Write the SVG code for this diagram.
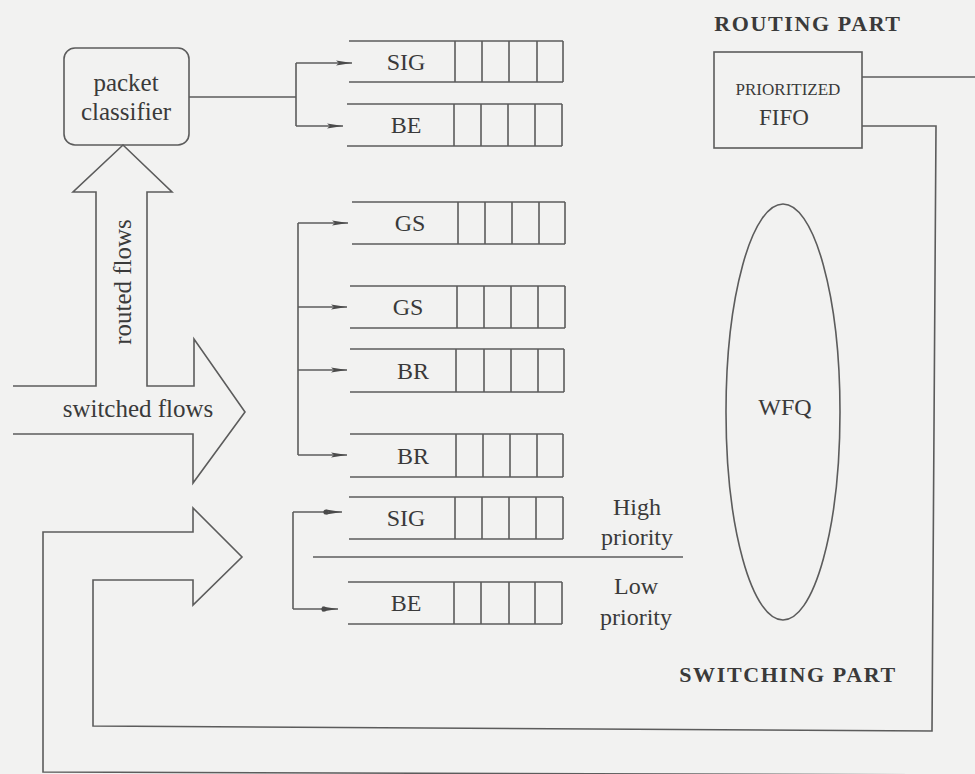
<svg xmlns="http://www.w3.org/2000/svg" width="975" height="774" viewBox="0 0 975 774">
<style>
.ln{fill:none;stroke:#5c5c5c;stroke-width:1.6;stroke-linejoin:miter}
.q{fill:none;stroke:#5c5c5c;stroke-width:1.6}
.t{font-family:"Liberation Serif","Times New Roman",serif;fill:#3a3a3a;text-anchor:middle}
.lab{font-size:24px}
.big{font-size:25px}
.hd{font-size:22px;font-weight:bold;letter-spacing:1.6px}
</style>
<defs>
<marker id="ah" markerUnits="userSpaceOnUse" markerWidth="18" markerHeight="8" refX="16" refY="4" orient="auto">
<path d="M0,1.5 L16,4 L0,6.5 L3,4 Z" fill="#4a4a4a"/>
</marker>
</defs>
<rect x="0" y="0" width="975" height="774" fill="#f2f2f1"/>

<g id="classifier">
<rect x="64" y="48" width="125" height="97" rx="11" class="ln"/>
<text class="t big" x="126" y="91">packet</text>
<text class="t big" x="126" y="120">classifier</text>
</g>

<g id="flows-arrow">
<path class="ln" d="M13,386 L96,386 L96,192 L73,192 L123,145 L172,192 L147,192 L147,386 L194,386 L194,339 L245,412 L193,483 L193,434 L13,434"/>
<text class="t big" x="123" y="282" transform="rotate(-90 123 282)" dy="8">routed flows</text>
<text class="t big" x="138" y="417">switched flows</text>
</g>

<g id="queue-sig1">
<path class="q" d="M349,41 H563 M349,82 H563 M455,41 V82 M482,41 V82 M509,41 V82 M537,41 V82 M563,41 V82"/>
<text class="t lab" x="406" y="70">SIG</text>
</g>
<g id="queue-be1">
<path class="q" d="M347,104 H562 M347,146 H562 M454,104 V146 M481,104 V146 M508,104 V146 M535,104 V146 M562,104 V146"/>
<text class="t lab" x="406" y="133">BE</text>
</g>
<g id="queue-gs1">
<path class="q" d="M352,202 H565 M352,244 H565 M458,202 V244 M485,202 V244 M512,202 V244 M539,202 V244 M565,202 V244"/>
<text class="t lab" x="410" y="231">GS</text>
</g>
<g id="queue-gs2">
<path class="q" d="M350,286 H565 M350,328 H565 M457,286 V328 M484,286 V328 M511,286 V328 M538,286 V328 M565,286 V328"/>
<text class="t lab" x="408" y="315">GS</text>
</g>
<g id="queue-br1">
<path class="q" d="M350,349 H564 M350,392 H564 M456,349 V392 M484,349 V392 M511,349 V392 M538,349 V392 M564,349 V392"/>
<text class="t lab" x="413" y="379">BR</text>
</g>
<g id="queue-br2">
<path class="q" d="M350,434 H563 M350,477 H563 M456,434 V477 M483,434 V477 M510,434 V477 M537,434 V477 M563,434 V477"/>
<text class="t lab" x="413" y="464">BR</text>
</g>
<g id="queue-sig2">
<path class="q" d="M349,497 H563 M349,539 H563 M455,497 V539 M482,497 V539 M509,497 V539 M536,497 V539 M563,497 V539"/>
<text class="t lab" x="406" y="526">SIG</text>
</g>
<g id="queue-be2">
<path class="q" d="M348,582 H562 M348,624 H562 M454,582 V624 M481,582 V624 M509,582 V624 M535,582 V624 M562,582 V624"/>
<text class="t lab" x="406" y="611">BE</text>
</g>

<g id="priority-labels">
<path class="q" d="M313,557 L683,557"/>
<text class="t lab" x="637" y="515">High</text>
<text class="t lab" x="637" y="545">priority</text>
<text class="t lab" x="636" y="594">Low</text>
<text class="t lab" x="636" y="625">priority</text>
</g>

<g id="wfq">
<ellipse cx="783" cy="412" rx="57" ry="208" class="ln"/>
<text class="t lab" x="785" y="415">WFQ</text>
</g>

<g id="fifo">
<rect x="714" y="52" width="148" height="96" class="ln"/>
<text class="t" x="788" y="95" font-size="17">PRIORITIZED</text>
<text class="t" x="784" y="125" font-size="23">FIFO</text>
</g>

<g id="routing-label">
<text class="t hd" x="808" y="31">ROUTING  PART</text>
</g>
<g id="switching-label">
<text class="t hd" x="788" y="682">SWITCHING  PART</text>
</g>

<g id="feedback-arrow">
<path class="ln" d="M975,775 L43,772 L43,532 L193,532 L193,508 L242,557 L193,605 L193,580 L93,580 L93,726 L932,731 L936,126 L862,126"/>
<path class="ln" d="M862,77 L975,77"/>
</g>

<g id="connectors">
<path class="ln" d="M189,97 L296,97 M296,63 L296,126"/>
<path class="ln" d="M296,63 L352,63" marker-end="url(#ah)"/>
<path class="ln" d="M296,126 L343,126" marker-end="url(#ah)"/>
<path class="ln" d="M298,223 L298,455"/>
<path class="ln" d="M298,223 L348,223" marker-end="url(#ah)"/>
<path class="ln" d="M298,307 L347,307" marker-end="url(#ah)"/>
<path class="ln" d="M298,370 L347,370" marker-end="url(#ah)"/>
<path class="ln" d="M298,455 L347,455" marker-end="url(#ah)"/>
<path class="ln" d="M293,512 L293,609"/>
<path class="ln" d="M293,512 L342,512" marker-end="url(#ah)"/>
<path class="ln" d="M293,609 L338,609" marker-end="url(#ah)"/>
<circle cx="326" cy="512" r="2.6" fill="#4a4a4a"/>
<circle cx="324" cy="609" r="2.6" fill="#4a4a4a"/>
</g>
</svg>
